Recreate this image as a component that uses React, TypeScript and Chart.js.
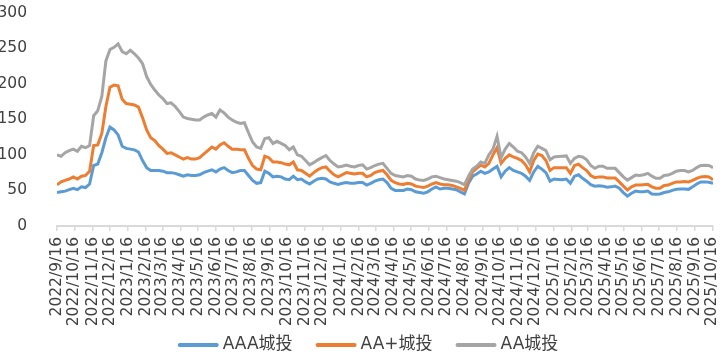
import React, { useEffect, useRef } from "react";
import { Chart, registerables } from "chart.js";

Chart.register(...registerables);

// Tick labels on the x axis (monthly, the 16th)
const tickLabels: string[] = [
  "2022/9/16", "2022/10/16", "2022/11/16", "2022/12/16",
  "2023/1/16", "2023/2/16", "2023/3/16", "2023/4/16", "2023/5/16", "2023/6/16",
  "2023/7/16", "2023/8/16", "2023/9/16", "2023/10/16", "2023/11/16", "2023/12/16",
  "2024/1/16", "2024/2/16", "2024/3/16", "2024/4/16", "2024/5/16", "2024/6/16",
  "2024/7/16", "2024/8/16", "2024/9/16", "2024/10/16", "2024/11/16", "2024/12/16",
  "2025/1/16", "2025/2/16", "2025/3/16", "2025/4/16", "2025/5/16", "2025/6/16",
  "2025/7/16", "2025/8/16", "2025/9/16", "2025/10/16",
];

// Weekly observations starting 2022/9/16
const startDate = "2022/9/16";
const weekStepDays = 7;

const seriesNames = ["AAA城投", "AA+城投", "AA城投"];

const aaa: number[] = [
  47, 48, 49, 51, 53, 51, 55, 54, 59, 85, 87, 103, 124, 139, 135, 128, 112, 109, 108, 107,
  104, 92, 82, 78, 78, 78, 77, 75, 75, 74, 72, 70, 72, 71, 71, 72, 75, 77, 79, 76,
  80, 82, 78, 75, 76, 78, 78, 71, 64, 60, 61, 77, 74, 69, 70, 69, 66, 65, 70, 65,
  66, 62, 59, 63, 66, 67, 66, 62, 60, 58.5, 60, 61, 60, 60, 61, 61, 57.5, 60, 63, 65,
  66, 61, 53, 50, 50, 50, 52, 51, 48, 47, 46, 48, 52, 55, 52, 53, 53, 52, 51, 48,
  45, 60, 70, 73, 77, 74, 76, 80, 84, 69, 77, 82, 78, 76, 74, 70, 64, 76, 84, 80,
  75, 63, 66, 65.5, 65, 66, 60, 70, 72, 67, 63, 58, 56, 56.5, 56, 54.5, 55, 56, 53, 47,
  42, 46, 49, 48, 48, 49, 45, 44.5, 45, 47, 48, 50, 51.5, 52, 52, 51.5, 55, 59, 62, 62,
  61.5, 60,
];

const aaPlus: number[] = [
  58, 62, 64, 66, 69, 66, 70, 71, 77, 113, 114, 130, 168, 195, 198, 197, 178, 172, 171, 170,
  167, 152, 135, 124, 120, 113, 108, 102, 103, 100, 97, 94, 96, 94, 94, 96, 101, 106, 111, 108,
  114, 117, 112, 108, 108, 107, 107, 95, 85, 80, 79, 98, 96, 90, 90, 89, 87, 86, 90, 79,
  78, 74, 70, 75, 79, 82, 83, 77, 72, 69, 72, 75, 74, 73, 74, 74, 69, 71, 75, 77,
  78, 72, 64, 61, 59, 58.5, 60, 59, 56, 55, 54, 56, 59, 61, 59, 58, 58, 57, 55, 53,
  50, 65, 76, 81, 85.5, 83, 88, 100, 110, 88, 95, 100, 97, 95, 92, 86, 76, 92, 101, 99,
  92, 78, 82, 82, 82, 82, 74, 85, 87, 82, 78, 71, 68, 69, 69, 67.5, 67.5, 67.5, 62, 56,
  50.5, 55, 57.5, 57.5, 58, 58.5, 55, 53, 53, 57, 57.5, 60, 62, 62, 62.5, 62, 64, 67, 69, 69.5,
  69, 65,
];

const aa: number[] = [
  100, 98, 103, 106, 108, 105, 112, 110, 113, 155, 162, 182, 232, 248, 251, 256, 245, 242, 247, 242,
  236, 228, 210, 199, 191, 184, 179, 172, 173, 168, 161, 153, 151, 150, 149, 149, 153, 156, 158, 153,
  163, 159, 153, 149, 146, 144, 145, 131, 118, 111, 109, 123, 124, 116, 119, 116, 113, 107, 111, 100,
  98, 92, 86, 89, 93, 96, 99, 92, 87, 83, 84, 85.5, 84, 83, 85, 86, 80, 82, 85, 87,
  88, 81, 74, 71, 70, 69, 71, 70, 66, 64.5, 64, 66, 69, 70, 68, 66, 65, 64, 63, 61,
  58, 70, 80, 84, 90, 88, 100, 108, 126, 96, 108, 116, 111, 105, 103, 97, 88, 103, 112, 109,
  106, 93, 97, 97.5, 98, 98.5, 88, 95, 98, 97, 93, 85, 81, 84, 84, 81, 81, 81, 75, 69,
  64.5, 68, 71.5, 71, 72, 74, 70, 67, 67, 71, 71.5, 74, 77, 78, 78, 76, 78, 82, 85, 85.5,
  85, 82,
];

const colors = ["#5B9BD5", "#ED7D31", "#A5A5A5"];

const DAY = 86400000;
function parseDate(s: string): number {
  const [y, m, d] = s.split("/").map(Number);
  return Date.UTC(y, m - 1, d);
}
const t0 = parseDate(startDate);
const tickDays = tickLabels.map((l) => (parseDate(l) - t0) / DAY);

function toPoints(vals: number[]) {
  return vals.map((v, i) => ({ x: i * weekStepDays, y: v }));
}

const TICK_FONT = "'DejaVu Sans', 'Noto Sans CJK SC', sans-serif";
const LEGEND_FONT_SIZE = 17;
const TEXT_COLOR = "#404040";

// Legend drawn at the bottom (line sample + label)
const bottomLegend = {
  id: "bottomLegend",
  afterDraw(chart: any) {
    const ctx = chart.ctx as CanvasRenderingContext2D;
    const sample = 41;
    const gap = 4;
    const itemGap = 23;
    const centerY = 345;
    ctx.save();
    ctx.font = `${LEGEND_FONT_SIZE}px ${TICK_FONT}`;
    ctx.textBaseline = "middle";
    const items = chart.data.datasets.map((ds: any) => ({
      label: ds.label as string,
      color: ds.borderColor as string,
      w: ctx.measureText(ds.label).width,
    }));
    const total = items.reduce((s: number, it: any, i: number) => s + sample + gap + it.w + (i > 0 ? itemGap : 0), 0);
    let x = 368 - total / 2;
    items.forEach((it: any) => {
      ctx.strokeStyle = it.color;
      ctx.lineWidth = 4;
      ctx.lineCap = "round";
      ctx.beginPath();
      ctx.moveTo(x + 2, centerY);
      ctx.lineTo(x + sample - 2, centerY);
      ctx.stroke();
      ctx.fillStyle = TEXT_COLOR;
      ctx.fillText(it.label, x + sample + gap, centerY);
      x += sample + gap + it.w + itemGap;
    });
    ctx.restore();
  },
};

export default function App() {
  const ref = useRef<HTMLCanvasElement | null>(null);
  useEffect(() => {
    document.body.style.margin = "0";
    const ctx = ref.current!;
    const all = [aaa, aaPlus, aa];
    const chart = new Chart(ctx, {
      type: "line",
      data: {
        datasets: all.map((vals, k) => ({
          label: seriesNames[k],
          data: toPoints(vals),
          borderColor: colors[k],
          backgroundColor: colors[k],
          borderWidth: 3,
          pointRadius: 0,
          tension: 0,
          order: 2 - k,
        })),
      },
      options: {
        animation: false,
        responsive: false,
        maintainAspectRatio: false,
        layout: { padding: { left: 0, right: 15, top: 12.5, bottom: 29 } },
        plugins: {
          tooltip: { enabled: false },
          legend: { display: false },
        },
        scales: {
          x: {
            type: "linear",
            min: 0,
            max: tickDays[tickDays.length - 1] + 1,
            afterBuildTicks: (scale: any) => {
              scale.ticks = tickDays.map((v) => ({ value: v }));
            },
            afterFit: (scale: any) => {
              scale.height = 102;
              scale.paddingLeft = 0;
              scale.paddingRight = 0;
            },
            ticks: {
              autoSkip: false,
              maxRotation: 90,
              minRotation: 90,
              padding: 6,
              color: TEXT_COLOR,
              font: { family: TICK_FONT, size: 15.5 },
              callback: (v: any) => {
                const idx = tickDays.indexOf(Number(v));
                return idx >= 0 ? tickLabels[idx] : "";
              },
            },
            grid: {
              display: true,
              drawOnChartArea: false,
              drawTicks: true,
              tickLength: 5,
              color: "#D9D9D9",
              lineWidth: 1.5,
            },
            border: { display: true, color: "#D9D9D9", width: 2 },
          },
          y: {
            min: 0,
            max: 300,
            afterFit: (scale: any) => {
              scale.width = 57;
              scale.paddingTop = 0;
              scale.paddingBottom = 0;
            },
            ticks: {
              stepSize: 50,
              padding: 22,
              color: TEXT_COLOR,
              font: { family: TICK_FONT, size: 15.5 },
            },
            grid: { display: false },
            border: { display: false },
          },
        },
      },
      plugins: [bottomLegend],
    });
    return () => chart.destroy();
  }, []);
  return (
    <div style={{ position: "fixed", left: 0, top: 0, width: 728, height: 357, background: "#fff" }}>
      <canvas ref={ref} width={728} height={357} style={{ width: 728, height: 357 }} />
    </div>
  );
}
